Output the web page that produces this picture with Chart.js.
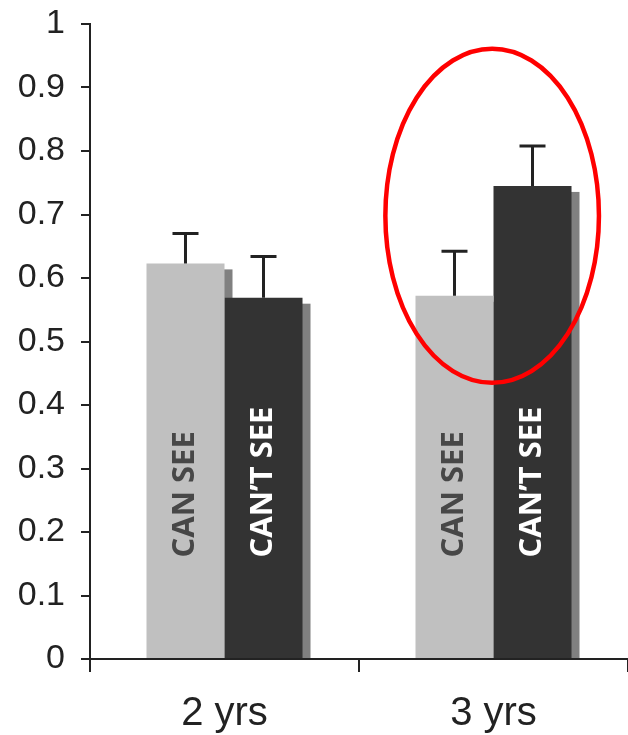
<!DOCTYPE html>
<html>
<head>
<meta charset="utf-8">
<script src="https://cdn.jsdelivr.net/npm/chart.js@4/dist/chart.umd.min.js"></script>
<style>
  html, body { margin: 0; padding: 0; background: #fff; }
  #myChart { display: block; }
</style>
</head>
<body>
<canvas id="myChart" width="628" height="735"></canvas>
<script>
const ages = ["2 yrs", "3 yrs"];
const canSee = [0.623, 0.572];
const cantSee = [0.569, 0.745];
const canSeeErr = [0.047, 0.070];
const cantSeeErr = [0.065, 0.063];
const barLabels = ["CAN SEE", "CAN\u2019T SEE"];
const yTicks = [0, 0.1, 0.2, 0.3, 0.4, 0.5, 0.6, 0.7, 0.8, 0.9, 1];

const errors = [canSeeErr, cantSeeErr];
const inkColor = "#222222";

// grey drop shadow behind every bar
const barShadow = {
    id: "barShadow",
    beforeDatasetsDraw(chart) {
        const ctx = chart.ctx;
        ctx.save();
        ctx.fillStyle = "#808080";
        chart.data.datasets.forEach((ds, i) => {
            chart.getDatasetMeta(i).data.forEach(bar => {
                const w = bar.width;
                ctx.fillRect(bar.x - w / 2 + 8, bar.y + 6, w, bar.base - bar.y - 6);
            });
        });
        ctx.restore();
    }
};

// error bars, text in the bars and the red ring
const extras = {
    id: "extras",
    afterDatasetsDraw(chart) {
        const ctx = chart.ctx;
        const y = chart.scales.y;
        const x = chart.scales.x;
        ctx.save();

        chart.data.datasets.forEach((ds, i) => {
            chart.getDatasetMeta(i).data.forEach((bar, j) => {
                const top = y.getPixelForValue(ds.data[j] + errors[i][j]);
                ctx.strokeStyle = inkColor;
                ctx.lineWidth = 3;
                ctx.beginPath();
                ctx.moveTo(bar.x, bar.y);
                ctx.lineTo(bar.x, top);
                ctx.moveTo(bar.x - 13, top);
                ctx.lineTo(bar.x + 13, top);
                ctx.stroke();

                // label written bottom-to-top
                ctx.save();
                ctx.translate(bar.x, y.getPixelForValue(0.16));
                ctx.rotate(-Math.PI / 2);
                ctx.font = "bold 31px 'Open Sans'";
                ctx.fillStyle = i === 0 ? "#474747" : "#ffffff";
                ctx.textAlign = "left";
                ctx.textBaseline = "middle";
                ctx.fillText(barLabels[i], 0, 0);
                ctx.restore();
            });
        });

        // axis line on top of the bar bottoms
        ctx.strokeStyle = inkColor;
        ctx.lineWidth = 2;
        ctx.beginPath();
        ctx.moveTo(chart.chartArea.left - 9, y.getPixelForValue(0));
        ctx.lineTo(chart.chartArea.right, y.getPixelForValue(0));
        ctx.stroke();

        // red ring around the 3 yrs group
        const step = x.getPixelForValue(1) - x.getPixelForValue(0);
        const cx = x.getPixelForValue(1) - step * 0.005;
        const cy = y.getPixelForValue(0.698);
        const ry = y.getPixelForValue(0) - y.getPixelForValue(0.263);
        ctx.strokeStyle = "#ff0000";
        ctx.lineWidth = 4.5;
        ctx.beginPath();
        ctx.ellipse(cx, cy, step * 0.397, ry, 0, 0, Math.PI * 2);
        ctx.stroke();

        ctx.restore();
    }
};

const data = {
    labels: ages,
    datasets: [
        { label: barLabels[0], data: canSee, backgroundColor: "#c0c0c0" },
        { label: barLabels[1], data: cantSee, backgroundColor: "#333333" }
    ]
};

const config = {
    type: "bar",
    data,
    options: {
        responsive: false,
        animation: false,
        devicePixelRatio: 1,
        layout: { padding: { top: 24, right: -4, bottom: 0, left: 0 } },
        datasets: {
            bar: { categoryPercentage: 0.58, barPercentage: 1.0 }
        },
        plugins: {
            legend: { display: false },
            tooltip: { enabled: false }
        },
        scales: {
            x: {
                grid: {
                    offset: true,
                    drawOnChartArea: false,
                    tickLength: 13,
                    color: inkColor,
                    lineWidth: 2
                },
                border: { color: inkColor, width: 2 },
                ticks: {
                    color: inkColor,
                    padding: 18,
                    font: { family: "'Liberation Sans', Arial", size: 40 }
                },
                afterFit(scale) {
                    scale.height = 76;
                    scale.paddingLeft = 0;
                    scale.paddingRight = 0;
                }
            },
            y: {
                min: 0,
                max: 1,
                afterBuildTicks(scale) {
                    scale.ticks = yTicks.map(v => ({ value: v }));
                },
                grid: {
                    drawOnChartArea: false,
                    tickLength: 9,
                    color: inkColor,
                    lineWidth: 2
                },
                border: { color: inkColor, width: 2 },
                ticks: {
                    color: inkColor,
                    padding: 16,
                    font: { family: "'Liberation Sans', Arial", size: 34 },
                    callback: v => String(v)
                },
                afterFit(scale) {
                    scale.width = 90;
                    scale.paddingTop = 0;
                    scale.paddingBottom = 0;
                }
            }
        }
    },
    plugins: [barShadow, extras]
};

myChart = new Chart(document.getElementById("myChart"), config);
</script>
</body>
</html>
